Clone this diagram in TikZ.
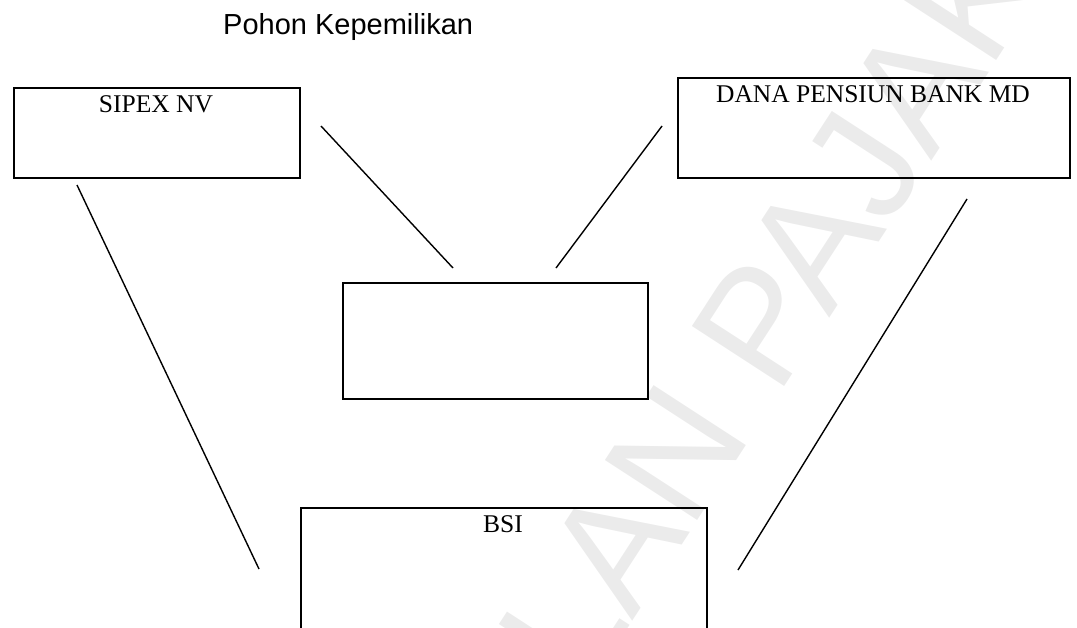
\documentclass[tikz,border=0pt]{standalone}
\usepackage{fontspec}
\setmainfont{Liberation Serif}
\newfontfamily\headfont{Liberation Sans}
\begin{document}
\begin{tikzpicture}[x=1pt,y=-1pt,
  box/.style={draw=black,line width=1.8pt,fill=none,inner sep=0pt,anchor=north west},
  boxtext/.style={anchor=base,inner sep=0pt,font=\fontsize{25.5}{30}\selectfont},
  link/.style={draw=black,line width=1.4pt},
  stampstyle/.style={anchor=base west,inner sep=0pt,text=black!8,rotate=57,
    font=\headfont\fontsize{160}{180}\selectfont}]
\useasboundingbox (0,0) rectangle (1077,627);
\clip (0,0) rectangle (1077,627);

% faint stamp across the page
\node[stampstyle] (stamp) at (192,1300) {PENGADILAN PAJAK};

% title
\node[anchor=base west,inner sep=0pt,font=\headfont\fontsize{29}{33}\selectfont] (title) at (223,34) {Pohon Kepemilikan};

% ownership boxes
\node[box,minimum width=286pt,minimum height=90pt] (sipex) at (13,87) {};
\node[box,minimum width=392pt,minimum height=100pt] (dana) at (677,77) {};
\node[box,minimum width=305pt,minimum height=116pt] (mid) at (342,282) {};
\node[box,minimum width=406pt,minimum height=140pt] (bsi) at (300,507) {};

\node[boxtext] (sipexname) at (156,112) {SIPEX NV};
\node[boxtext] (dananame) at (873,102) {DANA PENSIUN BANK MD};
\node[boxtext] (bsiname) at (503,532) {BSI};

% free-standing connector ends
\coordinate (s1) at (77,185);
\coordinate (s2) at (259,569);
\coordinate (s3) at (321,126);
\coordinate (s4) at (453,268);
\coordinate (d1) at (662,126);
\coordinate (d2) at (556,268);
\coordinate (d3) at (967,199);
\coordinate (d4) at (738,570);

\draw[link] (s1) -- (s2);
\draw[link] (s3) -- (s4);
\draw[link] (d1) -- (d2);
\draw[link] (d3) -- (d4);
\end{tikzpicture}
\end{document}
